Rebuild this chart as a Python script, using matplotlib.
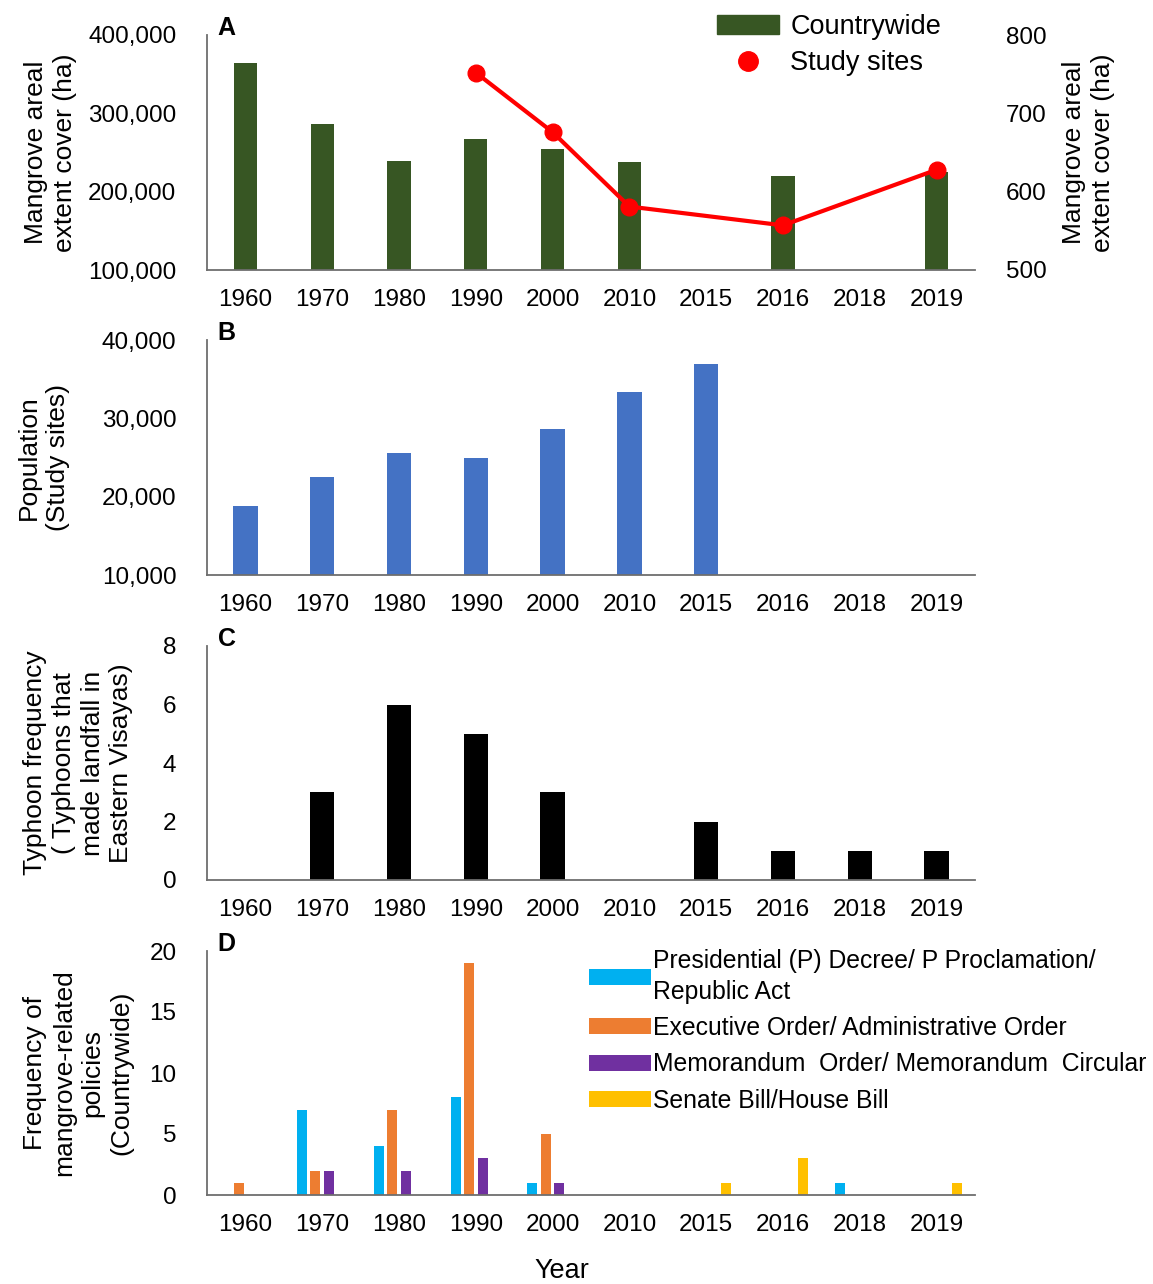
import matplotlib
matplotlib.use("Agg")
import matplotlib.pyplot as plt
import numpy as np
from matplotlib.lines import Line2D
from matplotlib.patches import Patch
from matplotlib.ticker import FuncFormatter

plt.rcParams["font.family"] = ["Liberation Sans", "DejaVu Sans"]

years = ["1960", "1970", "1980", "1990", "2000", "2010", "2015", "2016", "2018", "2019"]

# Panel A
countrywide = [364000, 286000, 239500, 267000, 254000, 238000, None, 219600, None, 225500]
study_sites = [None, None, None, 752, 676, 581, None, 557, None, 628]

# Panel B
population = [18800, 22550, 25540, 24900, 28640, 33360, 36980, None, None, None]

# Panel C
typhoons = [0, 3, 6, 5, 3, 0, 2, 1, 1, 1]

# Panel D
policy_labels = [
    "Presidential (P) Decree/ P Proclamation/\nRepublic Act",
    "Executive Order/ Administrative Order",
    "Memorandum  Order/ Memorandum  Circular",
    "Senate Bill/House Bill",
]
presidential = [0, 7, 4, 8, 1, 0, 0, 0, 1, 0]
executive = [1, 2, 7, 19, 5, 0, 0, 0, 0, 0]
memorandum = [0, 2, 2, 3, 1, 0, 0, 0, 0, 0]
senate = [0, 0, 0, 0, 0, 0, 1, 3, 0, 1]

policy_colors = ["#00B0F0", "#ED7D31", "#7030A0", "#FFC000"]

TICK_SIZE = 17.5
LABEL_SIZE = 19
SPINE_COLOR = "#6e6e6e"


def present(values):
    idx = np.array([i for i, v in enumerate(values) if v is not None])
    vals = np.array([v for v in values if v is not None], dtype=float)
    return idx, vals


def style_axis(ax, letter):
    ax.set_xlim(-0.5, len(years) - 0.5)
    ax.set_xticks(np.arange(len(years)))
    ax.set_xticklabels(years)
    ax.tick_params(axis="x", length=0, pad=14, labelsize=TICK_SIZE)
    ax.tick_params(axis="y", length=0, pad=22, labelsize=TICK_SIZE)
    for side in ("top", "right"):
        ax.spines[side].set_visible(False)
    for side in ("left", "bottom"):
        ax.spines[side].set_color(SPINE_COLOR)
        ax.spines[side].set_linewidth(1.3)
    ax.text(0.014, 1.03, letter, transform=ax.transAxes, fontsize=18,
            fontweight="bold", va="center", ha="left")


comma = FuncFormatter(lambda v, _: f"{int(v):,}")

fig = plt.figure(figsize=(11.53, 12.84), dpi=100)
left, width = 207 / 1153, 768 / 1153


def make_axes(top_px, bottom_px):
    return fig.add_axes([left, 1 - bottom_px / 1284, width, (bottom_px - top_px) / 1284])


# A
ax_a = make_axes(35, 270)
idx, vals = present(countrywide)
ax_a.bar(idx, vals, width=0.30, color="#375623")
ax_a.set_ylim(100000, 400000)
ax_a.set_yticks([100000, 200000, 300000, 400000])
ax_a.yaxis.set_major_formatter(comma)
style_axis(ax_a, "A")
ax_a.set_ylabel("Mangrove areal\nextent cover (ha)", fontsize=LABEL_SIZE, linespacing=1.3)
ax_a.yaxis.set_label_coords(-0.169, 0.5)

ax_a2 = ax_a.twinx()
idx, vals = present(study_sites)
ax_a2.plot(idx, vals, color="#FF0000", lw=3, marker="o", ms=12)
ax_a2.set_ylim(500, 800)
ax_a2.set_yticks([500, 600, 700, 800])
ax_a2.tick_params(axis="y", length=0, pad=22, labelsize=TICK_SIZE)
for side in ("top", "right", "left", "bottom"):
    ax_a2.spines[side].set_visible(False)
ax_a2.set_ylabel("Mangrove areal\nextent cover (ha)", fontsize=LABEL_SIZE, linespacing=1.3)
ax_a2.yaxis.set_label_coords(1.113, 0.5)

handles_a = [
    Patch(color="#375623"),
    Line2D([], [], color="#FF0000", marker="o", ms=14, lw=0),
]
fig.legend(handles_a, ["Countrywide", "Study sites"], loc="upper left",
           bbox_to_anchor=(717 / 1153, 1 - 14 / 1284), frameon=False,
           fontsize=19.5, handlelength=2.3, handletextpad=0.4, labelspacing=0.38,
           borderpad=0, borderaxespad=0)

# B
ax_b = make_axes(340, 575)
idx, vals = present(population)
ax_b.bar(idx, vals, width=0.32, color="#4472C4")
ax_b.set_ylim(10000, 40000)
ax_b.set_yticks([10000, 20000, 30000, 40000])
ax_b.yaxis.set_major_formatter(comma)
style_axis(ax_b, "B")
ax_b.set_ylabel("Population\n(Study sites)", fontsize=LABEL_SIZE, linespacing=1.3)
ax_b.yaxis.set_label_coords(-0.178, 0.5)

# C
ax_c = make_axes(646, 880)
ax_c.bar(np.arange(len(years)), typhoons, width=0.32, color="black")
ax_c.set_ylim(0, 8)
ax_c.set_yticks([0, 2, 4, 6, 8])
style_axis(ax_c, "C")
ax_c.set_ylabel("Typhoon frequency\n( Typhoons that\nmade landfall in\nEastern Visayas)",
                fontsize=LABEL_SIZE, linespacing=1.25)
ax_c.yaxis.set_label_coords(-0.096, 0.5)

# D
ax_d = make_axes(951, 1195)
series = [presidential, executive, memorandum, senate]
pitch, bar_w = 0.175, 0.13
x = np.arange(len(years))
for k, (values, color) in enumerate(zip(series, policy_colors)):
    ax_d.bar(x + (k - 1.5) * pitch, values, width=bar_w, color=color,
             label=policy_labels[k])
ax_d.set_ylim(0, 20)
ax_d.set_yticks([0, 5, 10, 15, 20])
style_axis(ax_d, "D")
ax_d.set_ylabel("Frequency of\nmangrove-related\npolicies\n(Countrywide)",
                fontsize=LABEL_SIZE, linespacing=1.25)
ax_d.yaxis.set_label_coords(-0.096, 0.5)
leg = ax_d.legend(loc="upper left", bbox_to_anchor=(589 / 1153, 1 - 949 / 1284),
                  bbox_transform=fig.transFigure, frameon=False, fontsize=17.8,
                  handlelength=2.5, handleheight=0.64, handletextpad=0.08,
                  labelspacing=0.5, borderpad=0, borderaxespad=0)
for t in leg.get_texts():
    t.set_linespacing(1.35)

fig.text(562 / 1153, 1 - 1271 / 1284, "Year", ha="center", va="center", fontsize=19.5)

fig.savefig("out.png", dpi=100)
